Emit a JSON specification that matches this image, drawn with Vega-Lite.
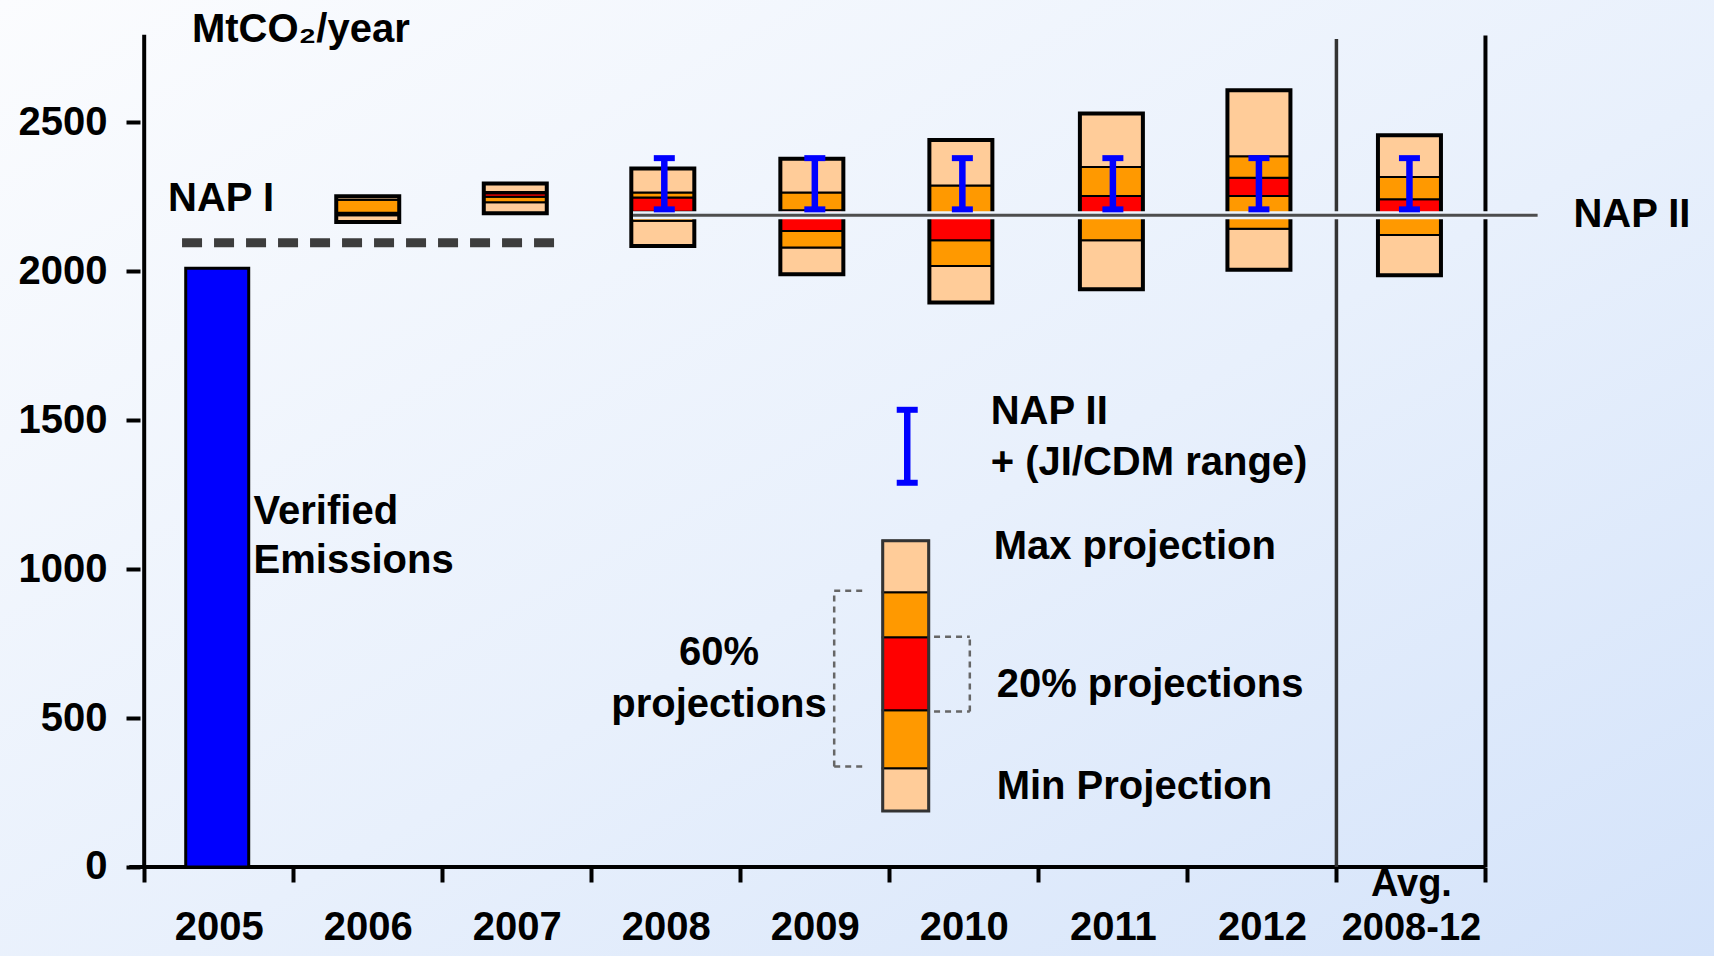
{
  "$schema": "https://vega.github.io/schema/vega-lite/v6.json",
  "width": 1714,
  "height": 956,
  "padding": 0,
  "autosize": {"type": "none"},
  "background": "#e9f0fb",
  "config": {
    "view": {"stroke": null, "fill": {"gradient": "linear", "x1": 0, "y1": 0, "x2": 1, "y2": 1, "stops": [{"offset": 0, "color": "#fbfcfe"}, {"offset": 0.55, "color": "#e8f0fc"}, {"offset": 1, "color": "#d4e3fa"}]}},
    "text": {"font": "Liberation Sans", "fontSize": 40, "fontWeight": "bold", "color": "black", "align": "left", "baseline": "middle"}
  },
  "datasets": {
    "proj": [
      {"period": "2006", "slot": 1.5, "band": "outer", "lo": 2166, "hi": 2188},
      {"period": "2006", "slot": 1.5, "band": "60%", "lo": 2188, "hi": 2193},
      {"period": "2006", "slot": 1.5, "band": "20%", "lo": 2193, "hi": 2197},
      {"period": "2006", "slot": 1.5, "band": "60%", "lo": 2197, "hi": 2240},
      {"period": "2006", "slot": 1.5, "band": "outer", "lo": 2240, "hi": 2252},
      {"period": "2007", "slot": 2.49, "band": "outer", "lo": 2195, "hi": 2232},
      {"period": "2007", "slot": 2.49, "band": "60%", "lo": 2232, "hi": 2250},
      {"period": "2007", "slot": 2.49, "band": "20%", "lo": 2250, "hi": 2262},
      {"period": "2007", "slot": 2.49, "band": "60%", "lo": 2262, "hi": 2266},
      {"period": "2007", "slot": 2.49, "band": "outer", "lo": 2266, "hi": 2295},
      {"period": "2008", "slot": 3.48, "band": "outer", "lo": 2085, "hi": 2170},
      {"period": "2008", "slot": 3.48, "band": "60%", "lo": 2170, "hi": 2200},
      {"period": "2008", "slot": 3.48, "band": "20%", "lo": 2200, "hi": 2248},
      {"period": "2008", "slot": 3.48, "band": "60%", "lo": 2248, "hi": 2265},
      {"period": "2008", "slot": 3.48, "band": "outer", "lo": 2265, "hi": 2345},
      {"period": "2009", "slot": 4.48, "band": "outer", "lo": 1990, "hi": 2080},
      {"period": "2009", "slot": 4.48, "band": "60%", "lo": 2080, "hi": 2135},
      {"period": "2009", "slot": 4.48, "band": "20%", "lo": 2135, "hi": 2205},
      {"period": "2009", "slot": 4.48, "band": "60%", "lo": 2205, "hi": 2265},
      {"period": "2009", "slot": 4.48, "band": "outer", "lo": 2265, "hi": 2378},
      {"period": "2010", "slot": 5.48, "band": "outer", "lo": 1895, "hi": 2018},
      {"period": "2010", "slot": 5.48, "band": "60%", "lo": 2018, "hi": 2104},
      {"period": "2010", "slot": 5.48, "band": "20%", "lo": 2104, "hi": 2190},
      {"period": "2010", "slot": 5.48, "band": "60%", "lo": 2190, "hi": 2288},
      {"period": "2010", "slot": 5.48, "band": "outer", "lo": 2288, "hi": 2441},
      {"period": "2011", "slot": 6.49, "band": "outer", "lo": 1940, "hi": 2104},
      {"period": "2011", "slot": 6.49, "band": "60%", "lo": 2104, "hi": 2180},
      {"period": "2011", "slot": 6.49, "band": "20%", "lo": 2180, "hi": 2253},
      {"period": "2011", "slot": 6.49, "band": "60%", "lo": 2253, "hi": 2350},
      {"period": "2011", "slot": 6.49, "band": "outer", "lo": 2350, "hi": 2530},
      {"period": "2012", "slot": 7.48, "band": "outer", "lo": 2005, "hi": 2143},
      {"period": "2012", "slot": 7.48, "band": "60%", "lo": 2143, "hi": 2253},
      {"period": "2012", "slot": 7.48, "band": "20%", "lo": 2253, "hi": 2314},
      {"period": "2012", "slot": 7.48, "band": "60%", "lo": 2314, "hi": 2386},
      {"period": "2012", "slot": 7.48, "band": "outer", "lo": 2386, "hi": 2608},
      {"period": "Avg. 2008-12", "slot": 8.49, "band": "outer", "lo": 1987, "hi": 2122},
      {"period": "Avg. 2008-12", "slot": 8.49, "band": "60%", "lo": 2122, "hi": 2180},
      {"period": "Avg. 2008-12", "slot": 8.49, "band": "20%", "lo": 2180, "hi": 2242},
      {"period": "Avg. 2008-12", "slot": 8.49, "band": "60%", "lo": 2242, "hi": 2317},
      {"period": "Avg. 2008-12", "slot": 8.49, "band": "outer", "lo": 2317, "hi": 2457}
    ],
    "legendbox": [
      {"period": "legend", "slot": 5.11, "band": "outer", "lo": 188, "hi": 331},
      {"period": "legend", "slot": 5.11, "band": "60%", "lo": 331, "hi": 526},
      {"period": "legend", "slot": 5.11, "band": "20%", "lo": 526, "hi": 771},
      {"period": "legend", "slot": 5.11, "band": "60%", "lo": 771, "hi": 922},
      {"period": "legend", "slot": 5.11, "band": "outer", "lo": 922, "hi": 1095}
    ],
    "nap2": [
      {"period": "2008", "slot": 3.49, "lo": 2208, "hi": 2380},
      {"period": "2009", "slot": 4.5, "lo": 2208, "hi": 2380},
      {"period": "2010", "slot": 5.49, "lo": 2208, "hi": 2380},
      {"period": "2011", "slot": 6.5, "lo": 2208, "hi": 2380},
      {"period": "2012", "slot": 7.48, "lo": 2208, "hi": 2380},
      {"period": "Avg. 2008-12", "slot": 8.49, "lo": 2208, "hi": 2380},
      {"period": "legend", "slot": 5.12, "lo": 1290, "hi": 1535}
    ],
    "verified": [
      {"period": "2005", "slot": 0.49, "lo": 0, "hi": 2010}
    ]
  },
  "layer": [
    {
      "data": {"values": [{}]},
      "mark": {"type": "rule", "color": "black", "strokeWidth": 4},
      "encoding": {
        "x": {"datum": 0, "type": "quantitative", "title": null,
          "scale": {"domain": [-0.934, 10.5], "nice": false, "zero": false},
          "axis": {"orient": "bottom", "offset": -89, "values": [0, 0.5, 1, 1.5, 2, 2.5, 3, 3.5, 4, 4.5, 5, 5.5, 6, 6.5, 7, 7.5, 8, 8.5, 9],
            "domain": false, "grid": false, "title": null,
            "tickSize": 15, "tickWidth": 4, "tickColor": "black",
            "tickOpacity": {"condition": {"test": "datum.value % 1 != 0", "value": 0}, "value": 1},
            "labelExpr": "datum.value % 1 == 0 ? '' : ['2005','2006','2007','2008','2009','2010','2011','2012',['Avg.','2008-12']][floor(datum.value)]",
            "labelFont": "Liberation Sans", "labelFontWeight": "bold", "labelColor": "black",
            "labelFontSize": {"condition": {"test": "datum.value == 8.5", "value": 38}, "value": 40},
            "labelPadding": {"condition": {"test": "datum.value == 8.5", "value": -17}, "value": 25},
            "labelLineHeight": 44, "labelOverlap": false, "labelFlush": false, "labelBound": false, "labelAngle": 0}},
        "y": {"datum": 0, "type": "quantitative", "title": null,
          "scale": {"domain": [-299, 2911], "nice": false, "zero": false},
          "axis": {"orient": "left", "offset": -140, "values": [0, 500, 1000, 1500, 2000, 2500], "format": "d",
            "domain": false, "grid": false, "title": null,
            "tickSize": 14, "tickWidth": 4, "tickColor": "black",
            "labelFont": "Liberation Sans", "labelFontSize": 40, "labelFontWeight": "bold", "labelColor": "black",
            "labelPadding": 19, "labelOverlap": false, "labelFlush": false, "labelBound": false}},
        "y2": {"datum": 2794}
      }
    },
    {
      "data": {"values": [{}]},
      "mark": {"type": "rule", "color": "black", "strokeWidth": 4},
      "encoding": {"x": {"datum": -0.1}, "x2": {"datum": 9}, "y": {"datum": 0}}
    },
    {
      "data": {"name": "verified"},
      "mark": {"type": "bar", "width": 63, "fill": "#0000ff", "stroke": "black", "strokeWidth": 3},
      "encoding": {
        "x": {"field": "slot", "type": "quantitative", "title": null},
        "y": {"field": "lo", "type": "quantitative", "title": null},
        "y2": {"field": "hi"}
      }
    },
    {
      "data": {"name": "proj"},
      "mark": {"type": "bar", "width": 63, "stroke": "black", "strokeWidth": 2},
      "encoding": {
        "x": {"field": "slot", "type": "quantitative", "title": null},
        "y": {"field": "lo", "type": "quantitative", "title": null},
        "y2": {"field": "hi"},
        "fill": {"field": "band", "type": "nominal", "legend": null,
          "scale": {"domain": ["outer", "60%", "20%"], "range": ["#ffcc99", "#ff9900", "#ff0000"]}}
      }
    },
    {
      "data": {"name": "proj"},
      "transform": [{"aggregate": [{"op": "min", "field": "lo", "as": "bottom"}, {"op": "max", "field": "hi", "as": "top"}], "groupby": ["period", "slot"]}],
      "mark": {"type": "bar", "width": 63, "fill": "white", "fillOpacity": 0, "stroke": "black", "strokeWidth": 4},
      "encoding": {
        "x": {"field": "slot", "type": "quantitative", "title": null},
        "y": {"field": "bottom", "type": "quantitative", "title": null},
        "y2": {"field": "top"}
      }
    },
    {
      "data": {"name": "legendbox"},
      "mark": {"type": "bar", "width": 46, "stroke": "black", "strokeWidth": 2},
      "encoding": {
        "x": {"field": "slot", "type": "quantitative", "title": null},
        "y": {"field": "lo", "type": "quantitative", "title": null},
        "y2": {"field": "hi"},
        "fill": {"field": "band", "type": "nominal", "legend": null}
      }
    },
    {
      "data": {"name": "legendbox"},
      "transform": [{"aggregate": [{"op": "min", "field": "lo", "as": "bottom"}, {"op": "max", "field": "hi", "as": "top"}], "groupby": ["period", "slot"]}],
      "mark": {"type": "bar", "width": 46, "fill": "white", "fillOpacity": 0, "stroke": "#333333", "strokeWidth": 3},
      "encoding": {
        "x": {"field": "slot", "type": "quantitative", "title": null},
        "y": {"field": "bottom", "type": "quantitative", "title": null},
        "y2": {"field": "top"}
      }
    },
    {
      "data": {"values": [{}]},
      "mark": {"type": "rule", "color": "#333333", "strokeWidth": 3.5},
      "encoding": {"x": {"datum": 8}, "y": {"datum": 0}, "y2": {"datum": 2780}}
    },
    {
      "data": {"values": [{}]},
      "mark": {"type": "rule", "color": "black", "strokeWidth": 4},
      "encoding": {"x": {"datum": 9}, "y": {"datum": 0}, "y2": {"datum": 2792}}
    },
    {
      "data": {"values": [{}]},
      "mark": {"type": "rule", "color": "#3d3d3d", "strokeWidth": 9, "strokeDash": [20, 12]},
      "encoding": {"x": {"datum": 0.254}, "x2": {"datum": 2.8}, "y": {"datum": 2096}}
    },
    {
      "data": {"values": [{}]},
      "mark": {"type": "rule", "color": "#edf3fc", "strokeWidth": 8},
      "encoding": {"x": {"datum": 3.28}, "x2": {"datum": 9.35}, "y": {"datum": 2188}}
    },
    {
      "data": {"values": [{}]},
      "mark": {"type": "rule", "color": "#4d4d4d", "strokeWidth": 3},
      "encoding": {"x": {"datum": 3.28}, "x2": {"datum": 9.35}, "y": {"datum": 2188}}
    },
    {
      "data": {"name": "nap2"},
      "mark": {"type": "rule", "color": "#0000ff", "strokeWidth": 6.5},
      "encoding": {
        "x": {"field": "slot", "type": "quantitative", "title": null},
        "y": {"field": "lo", "type": "quantitative", "title": null},
        "y2": {"field": "hi"}
      }
    },
    {
      "data": {"name": "nap2"},
      "mark": {"type": "tick", "orient": "horizontal", "color": "#0000ff", "size": 21, "thickness": 6, "opacity": 1},
      "encoding": {
        "x": {"field": "slot", "type": "quantitative", "title": null},
        "y": {"field": "lo", "type": "quantitative", "title": null}
      }
    },
    {
      "data": {"name": "nap2"},
      "mark": {"type": "tick", "orient": "horizontal", "color": "#0000ff", "size": 21, "thickness": 6, "opacity": 1},
      "encoding": {
        "x": {"field": "slot", "type": "quantitative", "title": null},
        "y": {"field": "hi", "type": "quantitative", "title": null}
      }
    },
    {
      "data": {"values": [{}]},
      "mark": {"type": "rule", "color": "#666666", "strokeWidth": 2.5, "strokeDash": [6, 5]},
      "encoding": {"x": {"datum": 4.63}, "y": {"datum": 337}, "y2": {"datum": 927}}
    },
    {
      "data": {"values": [{}]},
      "mark": {"type": "rule", "color": "#666666", "strokeWidth": 2.5, "strokeDash": [6, 5]},
      "encoding": {"x": {"datum": 4.63}, "x2": {"datum": 4.83}, "y": {"datum": 927}}
    },
    {
      "data": {"values": [{}]},
      "mark": {"type": "rule", "color": "#666666", "strokeWidth": 2.5, "strokeDash": [6, 5]},
      "encoding": {"x": {"datum": 4.63}, "x2": {"datum": 4.83}, "y": {"datum": 337}}
    },
    {
      "data": {"values": [{}]},
      "mark": {"type": "rule", "color": "#666666", "strokeWidth": 2.5, "strokeDash": [6, 5]},
      "encoding": {"x": {"datum": 5.54}, "y": {"datum": 522}, "y2": {"datum": 773}}
    },
    {
      "data": {"values": [{}]},
      "mark": {"type": "rule", "color": "#666666", "strokeWidth": 2.5, "strokeDash": [6, 5]},
      "encoding": {"x": {"datum": 5.3}, "x2": {"datum": 5.54}, "y": {"datum": 773}}
    },
    {
      "data": {"values": [{}]},
      "mark": {"type": "rule", "color": "#666666", "strokeWidth": 2.5, "strokeDash": [6, 5]},
      "encoding": {"x": {"datum": 5.3}, "x2": {"datum": 5.54}, "y": {"datum": 522}}
    },
    {"data": {"values": [{}]}, "mark": {"type": "text", "text": "MtCO₂/year"}, "encoding": {"x": {"datum": 0.32}, "y": {"datum": 2809}}},
    {"data": {"values": [{}]}, "mark": {"type": "text", "text": "NAP I"}, "encoding": {"x": {"datum": 0.16}, "y": {"datum": 2243}}},
    {"data": {"values": [{}]}, "mark": {"type": "text", "text": "NAP II"}, "encoding": {"x": {"datum": 9.59}, "y": {"datum": 2189}}},
    {"data": {"values": [{}]}, "mark": {"type": "text", "text": "Verified"}, "encoding": {"x": {"datum": 0.734}, "y": {"datum": 1193}}},
    {"data": {"values": [{}]}, "mark": {"type": "text", "text": "Emissions"}, "encoding": {"x": {"datum": 0.734}, "y": {"datum": 1028}}},
    {"data": {"values": [{}]}, "mark": {"type": "text", "text": "NAP II"}, "encoding": {"x": {"datum": 5.68}, "y": {"datum": 1529}}},
    {"data": {"values": [{}]}, "mark": {"type": "text", "text": "+ (JI/CDM range)"}, "encoding": {"x": {"datum": 5.68}, "y": {"datum": 1358}}},
    {"data": {"values": [{}]}, "mark": {"type": "text", "text": "Max projection"}, "encoding": {"x": {"datum": 5.7}, "y": {"datum": 1074}}},
    {"data": {"values": [{}]}, "mark": {"type": "text", "text": "20% projections"}, "encoding": {"x": {"datum": 5.72}, "y": {"datum": 611}}},
    {"data": {"values": [{}]}, "mark": {"type": "text", "text": "Min Projection"}, "encoding": {"x": {"datum": 5.72}, "y": {"datum": 268}}},
    {"data": {"values": [{}]}, "mark": {"type": "text", "text": "60%", "align": "center"}, "encoding": {"x": {"datum": 3.857}, "y": {"datum": 720}}},
    {"data": {"values": [{}]}, "mark": {"type": "text", "text": "projections", "align": "center"}, "encoding": {"x": {"datum": 3.857}, "y": {"datum": 545}}}
  ]
}
